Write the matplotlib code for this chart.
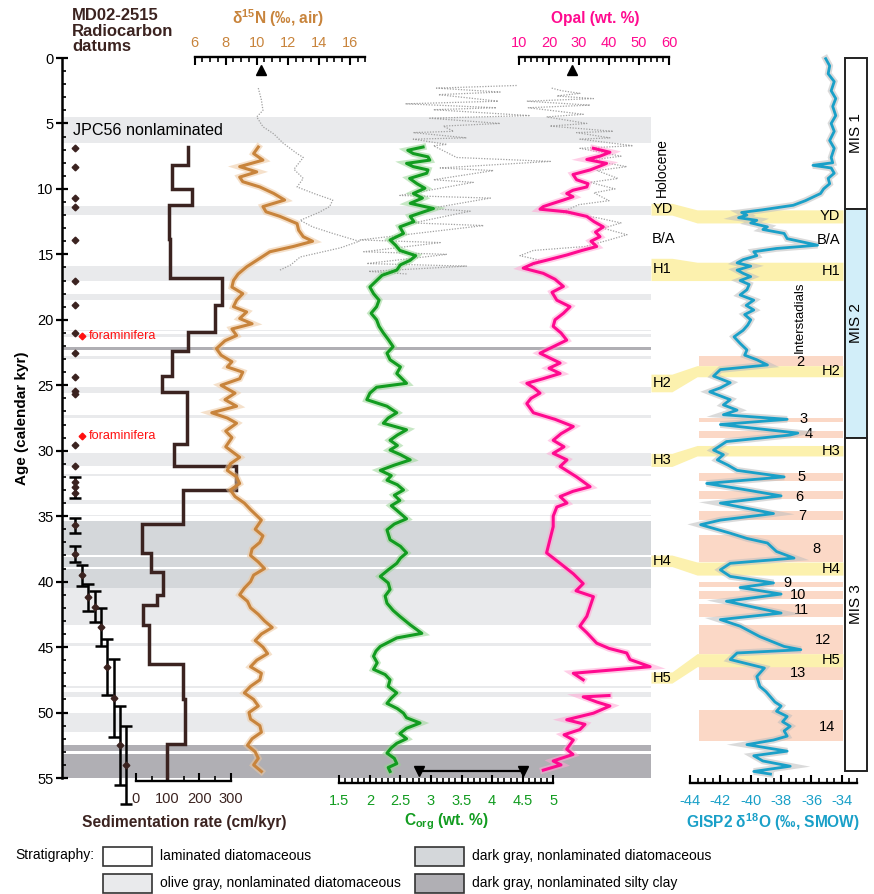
import numpy as np
import matplotlib
matplotlib.use('Agg')
import matplotlib.pyplot as plt
from matplotlib.ticker import MultipleLocator, FuncFormatter
from matplotlib.patches import Rectangle

plt.rcParams['font.family'] = ['Liberation Sans', 'DejaVu Sans']
plt.rcParams['axes.unicode_minus'] = False
plt.rcParams['mathtext.fontset'] = 'custom'
plt.rcParams['mathtext.rm'] = 'Liberation Sans:bold'
plt.rcParams['mathtext.it'] = 'Liberation Sans:bold'
plt.rcParams['mathtext.bf'] = 'Liberation Sans:bold'

# ---------------- data ----------------
# stratigraphy bands (age top, age bottom, kind)
strat_top = [4.5, 11.3, 15.9, 18.0, 20.75, 21.1, 22.05, 22.8, 25.1, 27.25, 30.15, 31.75,
             33.8, 34.9, 35.35, 38.1, 39.0, 40.45, 44.7, 48.0, 48.45, 50.0, 52.45, 53.2]
strat_bot = [6.46, 12.0, 17.0, 18.5, 20.85, 21.3, 22.3, 23.0, 25.6, 27.5, 31.2, 31.9,
             34.05, 35.0, 38.0, 38.85, 40.45, 43.35, 44.95, 48.15, 48.8, 51.5, 52.9, 55.0]
strat_kind = ['olive', 'olive', 'olive', 'olive', 'olive', 'olive', 'silty', 'olive', 'olive',
              'olive', 'olive', 'olive', 'olive', 'olive', 'dark', 'dark', 'dark', 'olive',
              'olive', 'olive', 'olive', 'olive', 'silty', 'silty']

# radiocarbon datums
c14_age = [6.9, 8.3, 10.7, 11.4, 13.9, 17.0, 18.9, 21.0, 22.5, 24.4, 25.4, 25.7, 29.6, 31.2,
           32.4, 32.8, 33.2, 35.7, 37.9, 39.5, 41.2, 41.9, 43.5, 46.5, 48.9, 52.5, 54.0]
c14_err = [0] * 15 + [0.8, 0, 0.55, 0.6, 0.8, 1.05, 1.15, 1.45, 2.15, 3.0, 3.0, 3.0]
foram_age = [21.2, 28.9]

# sedimentation rate (step function: top age of each interval, rate)
sed_top = [6.8, 8.2, 10.0, 11.2, 13.8, 16.8, 18.9, 20.9, 22.4, 24.3, 25.5, 29.5, 31.2, 33.0,
           35.6, 37.8, 39.3, 41.0, 41.8, 43.3, 46.3, 49.0, 52.4]
sed_rate = [165, 113, 178, 105, 108, 273, 248, 165, 113, 83, 161, 121, 315, 149,
            19, 47, 86, 66, 22, 41, 147, 154, 99]
sed_end = 55.0

# d15N (age, permil)
d15n = [(6.8, 10.1), (7.3, 9.8), (7.8, 10.4), (8.3, 8.9), (8.7, 10.0), (9.1, 8.9), (9.45, 9.1),
        (9.85, 10.2), (10.35, 11.1), (10.85, 11.8), (11.35, 10.4), (11.75, 10.6), (12.1, 11.5),
        (12.65, 12.6), (13.15, 12.7), (13.65, 13.0), (14.0, 13.6), (14.4, 12.35), (14.8, 10.85),
        (15.3, 10.2), (15.95, 9.35), (16.5, 8.8), (17.0, 8.5), (17.5, 8.4), (18.0, 9.1),
        (18.5, 8.7), (19.0, 8.5), (19.4, 9.35), (19.9, 8.9), (20.3, 9.7), (20.7, 8.4),
        (21.2, 8.7), (21.6, 7.95), (22.2, 7.4), (22.7, 7.7), (23.2, 8.4), (23.6, 8.1),
        (24.0, 9.1), (24.5, 8.9), (25.0, 7.7), (25.6, 8.6), (26.1, 7.95), (26.6, 8.7),
        (27.1, 7.1), (27.5, 8.1), (27.9, 8.7), (28.5, 8.0), (29.0, 8.4), (29.7, 8.0),
        (30.5, 8.9), (31.0, 8.3), (31.5, 8.1), (32.0, 8.7), (32.5, 8.9), (33.0, 8.3),
        (33.5, 8.6), (34.0, 9.2), (34.5, 9.6), (35.3, 10.3), (36.0, 9.9), (36.5, 10.4),
        (37.0, 10.2), (37.5, 9.7), (38.0, 9.6), (38.5, 10.1), (39.0, 10.5), (39.5, 9.8),
        (40.0, 9.6), (40.5, 9.2), (41.0, 8.9), (41.5, 9.4), (42.0, 9.6), (42.5, 10.1),
        (43.0, 10.5), (43.5, 11.0), (44.0, 10.3), (44.5, 9.9), (45.0, 10.4), (45.5, 10.7),
        (46.0, 10.0), (46.5, 9.6), (47.0, 10.3), (47.5, 10.2), (48.0, 9.6), (48.5, 9.2),
        (49.0, 9.8), (49.5, 10.1), (50.0, 9.5), (50.5, 9.6), (51.0, 10.2), (51.5, 10.3),
        (52.0, 9.7), (52.5, 9.4), (53.0, 9.9), (53.5, 10.1), (54.0, 9.8), (54.5, 10.3)]
d15n_jpc = [(2.3, 10.1), (3.2, 10.3), (4.0, 10.4), (4.5, 10.0), (5.25, 10.4), (5.8, 11.1),
            (6.5, 11.7), (7.3, 12.6), (7.6, 13.0), (8.5, 12.4), (9.2, 13.0), (9.85, 12.6),
            (10.4, 13.8), (10.85, 14.9), (11.35, 14.7), (11.8, 14.0), (12.4, 12.8), (12.9, 13.6),
            (13.4, 14.9), (14.0, 16.6), (14.5, 15.4), (15.2, 12.8), (15.8, 12.2), (16.2, 11.5)]
d15n_core_top = 10.3

# Corg (age, wt %)
corg = [(6.8, 2.87), (7.05, 2.62), (7.3, 2.71), (7.55, 2.95), (7.8, 2.98), (8.05, 2.6),
        (8.3, 2.71), (8.55, 2.95), (8.8, 2.93), (9.2, 2.65), (9.6, 2.77), (9.95, 2.9),
        (10.35, 2.71), (10.7, 2.86), (11.1, 2.66), (11.5, 3.04), (12.1, 2.66), (12.5, 2.72),
        (12.9, 2.49), (13.4, 2.55), (13.9, 2.33), (14.3, 2.42), (14.7, 2.49), (15.1, 2.75),
        (15.45, 2.66), (15.8, 2.5), (16.2, 2.44), (16.6, 2.2), (17.0, 2.11), (17.5, 2.0),
        (18.0, 2.06), (18.5, 2.15), (19.0, 2.11), (19.5, 2.02), (20.0, 2.11), (20.5, 2.15),
        (21.0, 2.22), (21.5, 2.3), (22.05, 2.38), (22.55, 2.28), (23.05, 2.33), (23.6, 2.5),
        (24.1, 2.44), (24.85, 2.6), (25.15, 2.11), (25.6, 2.0), (26.1, 1.95), (26.6, 2.28),
        (27.1, 2.44), (27.5, 2.3), (27.9, 2.22), (28.4, 2.6), (28.8, 2.45), (29.2, 2.33),
        (29.6, 2.45), (29.95, 2.33), (30.3, 2.5), (30.7, 2.66), (31.1, 2.4), (31.5, 2.17),
        (31.9, 2.35), (32.25, 2.28), (32.6, 2.45), (33.0, 2.55), (33.4, 2.4), (33.8, 2.49),
        (34.2, 2.35), (34.55, 2.44), (35.2, 2.6), (35.6, 2.4), (36.05, 2.28), (36.8, 2.33),
        (37.3, 2.5), (37.8, 2.6), (38.2, 2.5), (38.6, 2.44), (39.1, 2.3), (39.6, 2.17),
        (40.1, 2.3), (40.6, 2.33), (41.1, 2.25), (41.65, 2.28), (42.2, 2.38), (42.65, 2.49),
        (43.3, 2.66), (43.95, 2.85), (44.3, 2.44), (44.95, 2.17), (45.3, 2.1), (45.7, 2.06),
        (46.2, 2.12), (46.7, 2.06), (47.1, 2.25), (47.5, 2.33), (48.0, 2.3), (48.5, 2.44),
        (48.9, 2.35), (49.3, 2.28), (49.7, 2.45), (50.05, 2.55), (50.4, 2.6), (50.8, 2.82),
        (51.2, 2.6), (51.6, 2.49), (52.0, 2.6), (52.35, 2.44), (52.7, 2.35), (53.1, 2.28),
        (53.5, 2.4), (53.9, 2.44), (54.2, 2.3), (54.5, 2.33)]
corg_jpc = [(2.1, 4.40), (2.3, 3.09), (2.6, 4.13), (2.8, 3.12), (3.3, 4.10), (3.5, 2.58),
            (3.8, 4.07), (3.95, 3.04), (4.4, 4.62), (4.6, 2.98), (5.0, 4.13), (5.2, 3.20),
            (5.6, 3.37), (5.7, 2.71), (6.1, 3.58), (6.2, 2.71), (6.6, 3.26), (6.7, 3.04),
            (7.6, 3.42), (7.9, 4.95), (8.4, 3.15), (8.6, 4.02), (9.3, 3.04), (9.5, 3.69),
            (10.5, 2.49), (10.7, 3.97), (11.5, 2.98), (11.7, 3.64), (12.6, 2.71), (12.8, 3.86),
            (13.9, 1.84), (14.1, 3.15), (14.8, 1.90), (15.0, 3.26), (15.7, 1.95), (15.9, 3.58),
            (16.3, 1.98), (16.5, 2.61)]
corg_range = [2.81, 4.5]
corg_range_age = 54.45

# opal (age, wt %)
opal = [(6.9, 34.8), (7.2, 40.3), (7.5, 37.0), (7.75, 32.6), (8.05, 39.2), (8.3, 36.5),
        (8.55, 33.7), (8.9, 28.0), (9.3, 29.2), (9.6, 33.0), (9.85, 32.6), (10.1, 28.0),
        (10.35, 25.9), (10.6, 28.0), (10.85, 24.8), (11.1, 21.4), (11.35, 18.1), (11.55, 17.0),
        (11.75, 25.9), (12.1, 32.6), (12.5, 35.0), (12.9, 38.1), (13.3, 35.5), (13.65, 37.0),
        (14.0, 34.0), (14.4, 35.9), (14.7, 31.0), (15.05, 25.9), (15.4, 20.0), (15.7, 14.8),
        (16.05, 11.4), (16.45, 18.1), (16.9, 22.0), (17.45, 24.8), (17.9, 21.0), (18.5, 22.6),
        (19.0, 27.0), (19.5, 24.8), (20.0, 22.0), (20.5, 21.4), (21.0, 24.0), (21.55, 25.9),
        (22.1, 21.0), (22.55, 17.0), (23.3, 23.7), (23.7, 20.0), (24.1, 23.7), (24.5, 18.0),
        (24.85, 12.6), (25.2, 15.0), (25.6, 17.0), (26.0, 14.0), (26.4, 12.6), (27.1, 14.8),
        (27.6, 22.0), (28.15, 28.1), (28.7, 24.0), (29.2, 21.4), (29.7, 25.0), (30.2, 21.4),
        (30.7, 26.0), (31.2, 23.7), (32.0, 29.2), (32.75, 33.7), (33.1, 28.0), (33.5, 23.7),
        (34.0, 26.0), (34.3, 22.6), (35.0, 21.4), (35.8, 21.4), (36.8, 20.3), (37.8, 19.2),
        (38.6, 23.7), (39.4, 28.1), (40.15, 31.4), (40.7, 29.0), (41.15, 34.8), (41.9, 33.7),
        (42.65, 32.6), (43.4, 30.3), (43.9, 32.6), (44.7, 35.9), (45.1, 40.0), (45.45, 45.9),
        (45.95, 47.0), (46.5, 53.7), (47.0, 28.1), (47.5, 31.4), (48.0, np.nan), (48.7, 40.0),
        (48.8, 31.4), (49.2, 36.0), (49.5, 40.3), (50.05, 34.8), (50.55, 25.9), (50.9, 32.0),
        (51.3, 30.3), (51.7, 25.0), (52.1, 28.1), (52.8, 25.9), (53.2, 28.0), (53.7, 21.4),
        (54.0, 24.0), (54.4, 18.1)]
opal_jpc = [(2.3, 20.9), (2.5, 24.2), (2.7, 30.3), (2.9, 22.6), (3.1, 34.8), (3.3, 12.6),
            (3.6, 33.7), (3.8, 13.1), (4.3, 31.4), (4.5, 19.2), (5.0, 32.6), (5.2, 20.3),
            (5.6, 41.4), (5.7, 29.2), (6.1, 40.3), (6.2, 30.3), (6.7, 48.0), (6.9, 30.3),
            (7.5, 44.0), (7.8, 34.0), (8.3, 45.9), (8.6, 36.0), (9.2, 43.0), (9.5, 33.7),
            (10.0, 42.0), (10.3, 35.0), (10.9, 40.0), (11.2, 30.0), (11.8, 24.0), (12.2, 36.0),
            (12.6, 44.0), (13.0, 38.0), (13.5, 46.0), (13.9, 40.0), (14.4, 32.0), (14.7, 14.8),
            (15.1, 10.3), (15.5, 18.0), (15.9, 14.0)]
opal_core_top = 27.6

# GISP2 d18O (age, permil)
gisp = [(0.05, -35.06), (0.6, -34.8), (1.2, -34.9), (1.8, -34.5), (2.5, -34.7), (3.1, -34.4),
        (3.7, -34.6), (4.4, -34.4), (5.0, -34.7), (5.6, -34.5), (6.3, -34.8), (6.9, -34.5),
        (7.6, -34.7), (8.0, -34.6), (8.2, -35.9), (8.4, -34.7), (8.8, -34.5), (9.2, -34.9),
        (9.6, -34.8), (10.0, -35.2), (10.35, -35.4), (10.9, -36.4), (11.25, -37.2),
        (11.35, -37.8), (11.6, -39.25), (11.8, -40.6), (12.0, -40.25), (12.2, -40.8),
        (12.4, -39.6), (12.6, -40.0), (12.9, -38.9), (13.1, -39.2), (13.4, -37.8),
        (13.8, -37.6), (14.0, -36.8), (14.3, -35.6), (14.55, -38.3), (14.8, -39.8),
        (15.1, -39.6), (15.4, -40.5), (15.65, -40.9), (15.9, -40.0), (16.2, -40.9),
        (16.45, -40.5), (16.7, -40.0), (17.0, -40.7), (17.3, -40.1), (17.7, -40.25),
        (18.1, -40.7), (18.5, -39.8), (18.9, -40.3), (19.25, -39.8), (19.6, -40.4),
        (20.0, -40.0), (20.4, -40.2), (20.8, -40.5), (21.3, -41.1), (21.8, -40.7),
        (22.3, -40.25), (22.7, -40.4), (23.05, -39.6), (23.45, -38.9), (23.8, -42.0),
        (24.3, -42.45), (24.8, -41.35), (25.2, -42.0), (25.5, -42.7), (26.1, -41.35),
        (26.5, -41.8), (26.9, -40.9), (27.25, -41.8), (27.6, -37.6), (28.0, -42.0),
        (28.65, -36.9), (28.8, -37.4), (29.3, -41.6), (29.95, -42.45), (30.3, -41.8),
        (30.7, -42.2), (31.1, -41.5), (31.5, -40.9), (32.0, -37.8), (32.5, -42.9),
        (33.0, -40.25), (33.45, -38.0), (34.0, -42.0), (34.8, -38.5), (35.3, -42.0),
        (35.65, -43.3), (36.3, -41.35), (36.7, -40.25), (37.05, -38.9), (37.7, -38.3),
        (38.2, -37.15), (38.6, -41.35), (39.1, -42.0), (39.6, -41.35), (40.1, -38.5),
        (40.45, -40.7), (40.95, -38.0), (41.5, -41.6), (42.0, -39.6), (42.4, -38.0),
        (42.9, -42.0), (43.4, -40.7), (44.2, -39.4), (44.95, -37.8), (45.2, -36.7),
        (45.45, -40.9), (45.95, -41.35), (46.6, -39.1), (47.25, -39.6), (48.0, -39.4),
        (48.4, -39.0), (48.8, -38.7), (49.2, -38.4), (49.5, -38.0), (49.9, -38.3),
        (50.3, -37.6), (50.7, -37.9), (51.05, -37.4), (51.4, -37.8), (51.8, -37.6),
        (52.1, -38.5), (52.45, -40.25), (52.95, -37.6), (53.3, -39.8), (53.7, -39.2),
        (54.1, -37.4), (54.5, -39.8), (54.7, -38.7)]

# Heinrich events / YD: ages in MD02-2515 and in GISP2
events = ['YD', 'H1', 'H2', 'H3', 'H4', 'H5']
ev_md_top = [11.1, 15.3, 24.15, 30.2, 37.97, 46.9]
ev_md_bot = [12.0, 17.0, 25.5, 31.2, 38.85, 47.75]
ev_gisp_top = [11.6, 15.6, 23.5, 29.6, 38.5, 45.5]
ev_gisp_bot = [12.6, 17.0, 24.35, 30.4, 39.5, 46.5]

# Greenland interstadials
is_num = ['2', '3', '4', '5', '6', '7', '8', '9', '10', '11', '12', '13', '14']
is_top = [22.8, 27.5, 28.5, 31.7, 33.1, 34.6, 36.4, 40.05, 40.7, 41.7, 43.3, 46.5, 49.8]
is_bot = [23.5, 27.8, 29.05, 32.3, 33.7, 35.3, 38.5, 40.4, 41.3, 42.7, 45.5, 47.5, 52.2]

# marine isotope stages
mis_names = ['MIS 1', 'MIS 2', 'MIS 3']
mis_bounds = [0, 11.5, 29.0, 54.5]

# ---------------- layout helpers ----------------
W, H = 874, 894
Y0, Y1 = 58, 778          # pixel rows of age 0 and age 55
FS = 10.5                 # general text size

fig = plt.figure(figsize=(W / 100, H / 100), dpi=100)


def px_axes(x0, x1, z):
    a = fig.add_axes([x0 / W, 1 - Y1 / H, (x1 - x0) / W, (Y1 - Y0) / H])
    a.set_ylim(55, 0)
    a.patch.set_visible(False)
    a.set_zorder(z)
    return a


def track_axis(a, side, color, major, minor, offset, fmt=None):
    for s in a.spines.values():
        s.set_visible(False)
    sp = a.spines[side]
    sp.set_visible(True)
    sp.set_linewidth(1.7)
    sp.set_position(('outward', offset))
    a.yaxis.set_visible(False)
    a.xaxis.set_ticks_position(side)
    a.xaxis.set_major_locator(MultipleLocator(major))
    a.xaxis.set_minor_locator(MultipleLocator(minor))
    a.xaxis.set_major_formatter(FuncFormatter(fmt or (lambda v, p: f'{v:g}')))
    pad = 8 if side == 'bottom' else 5
    a.tick_params(axis='x', which='major', direction='in', length=6, width=1.5,
                  labelsize=FS, labelcolor=color, pad=pad)
    a.tick_params(axis='x', which='minor', direction='in', length=3.5, width=1.2)


def trace(a, pairs, color, halo, lw=2.2):
    arr = np.array(pairs, dtype=float)
    a.plot(arr[:, 1], arr[:, 0], color=halo, lw=4.8, alpha=0.55, clip_on=False,
           solid_joinstyle='miter')
    a.plot(arr[:, 1], arr[:, 0], color=color, lw=lw, clip_on=False)


def dotted(a, pairs):
    arr = np.array(pairs, dtype=float)
    a.plot(arr[:, 1], arr[:, 0], color='#a0a0a0', lw=0.9, ls=(0, (1, 1.2)), clip_on=False)


brown = '#3b2320'
c_n15, c_corg, c_opal, c_gisp = '#c8843c', '#129c20', '#ff0a8f', '#1aa0c8'
band_col = {'olive': '#e9eaec', 'dark': '#d4d7da', 'silty': '#b0afb4'}

# ---------------- main age axis + stratigraphy ----------------
ax = px_axes(62, 651, 0)
ax.set_xlim(0, 1)
for s in ['top', 'right', 'bottom']:
    ax.spines[s].set_visible(False)
ax.spines['left'].set_linewidth(1.8)
ax.set_xticks([])
ax.yaxis.set_major_locator(MultipleLocator(5))
ax.yaxis.set_minor_locator(MultipleLocator(1))
ax.tick_params(axis='y', which='major', direction='inout', length=8, width=1.6,
               labelsize=FS, pad=2)
ax.tick_params(axis='y', which='minor', direction='in', length=3, width=1.2)
for t, b, k in zip(strat_top, strat_bot, strat_kind):
    ax.axhspan(t, b, color=band_col[k], lw=0, zorder=0)
ax.text(0.018, 5.5, 'JPC56 nonlaminated', fontsize=11.6, va='center', ha='left')
fig.text(22 / W, 1 - 418 / H, 'Age (calendar kyr)', rotation=90, fontsize=11,
         fontweight='bold', ha='center', va='center')
fig.text(72 / W, 1 - 8 / H, 'MD02-2515\nRadiocarbon\ndatums', fontsize=12,
         fontweight='bold', color=brown, ha='left', va='top', linespacing=1.05)

# ---------------- radiocarbon datums ----------------
axc = px_axes(62, 140, 5)
axc.set_xlim(0, 1)
axc.axis('off')
c14_x = []
k = 0
for a_ in c14_age:
    if a_ < 39:
        c14_x.append(0.167)
    else:
        c14_x.append(0.257 + 0.081 * k)
        k += 1
for xv, yv, e in zip(c14_x, c14_age, c14_err):
    if e > 0:
        eb = axc.errorbar(xv, yv, yerr=e, fmt='none', ecolor='black', elinewidth=1.8,
                          capsize=4, capthick=1.8)
        for art in eb.get_children():
            art.set_clip_on(False)
axc.plot(c14_x, c14_age, 'D', color=brown, ms=3.4, clip_on=False, zorder=4)
axc.plot([0.25] * len(foram_age), foram_age, 'D', color='#ff1010', ms=3.4)
for fa in foram_age:
    axc.text(0.35, fa, 'foraminifera', color='#ff1010', fontsize=9.2, va='center')

# ---------------- sedimentation rate ----------------
axs = px_axes(136, 231, 3)
axs.set_xlim(0, 300)
track_axis(axs, 'bottom', brown, 100, 50, 2.2)
bot = sed_top[1:] + [sed_end]
sx = np.repeat(sed_rate, 2)
sy = np.ravel(np.column_stack([sed_top, bot]))
axs.plot(sx, sy, color=brown, lw=2.5, clip_on=False, solid_joinstyle='miter')
fig.text(184 / W, 1 - 822 / H, 'Sedimentation rate (cm/kyr)', fontsize=11.2,
         fontweight='bold', color=brown, ha='center', va='center')

# ---------------- d15N ----------------
axn = px_axes(194.7, 365.3, 3)
axn.set_xlim(6, 17)
track_axis(axn, 'top', c_n15, 2, 0.5, 0.7)
dotted(axn, d15n_jpc)
trace(axn, d15n, c_n15, '#edc8a0')
axn.plot([d15n_core_top], [0.9], '^', color='black', ms=7.5, clip_on=False)
fig.text(278 / W, 1 - 18 / H, 'δ$^{15}$N (‰, air)', fontsize=11.2, fontweight='bold',
         color=c_n15, ha='center', va='center')

# ---------------- Corg ----------------
axg = px_axes(339.3, 553.3, 3)
axg.set_xlim(1.5, 5)
track_axis(axg, 'bottom', c_corg, 0.5, 0.1, 3.6)
dotted(axg, corg_jpc)
trace(axg, corg, c_corg, '#98d494')
axg.plot(corg_range, [corg_range_age] * 2, color='black', lw=1.6, clip_on=False)
axg.plot(corg_range, [corg_range_age] * 2, 'v', color='black', ms=7.5, clip_on=False)
fig.text(446 / W, 1 - 822 / H, 'C$_{org}$ (wt. %)', fontsize=11.2, fontweight='bold',
         color=c_corg, ha='center', va='center')

# ---------------- opal ----------------
axo = px_axes(519, 669, 3)
axo.set_xlim(10, 60)
track_axis(axo, 'top', c_opal, 10, 2, 0.7)
dotted(axo, opal_jpc)
trace(axo, opal, c_opal, '#ffa6d4')
axo.plot([opal_core_top], [0.9], '^', color='black', ms=7.5, clip_on=False)
fig.text(595 / W, 1 - 19 / H, 'Opal (wt. %)', fontsize=11.2, fontweight='bold',
         color=c_opal, ha='center', va='center')

# ---------------- events / interstadial bands ----------------
axe = px_axes(651, 843, 1)
axe.set_xlim(0, 1)
axe.axis('off')
yel, pink = '#fcf1ae', '#fbd8c6'
for t, b in zip(is_top, is_bot):
    axe.fill_between([0.25, 1], t, b, color=pink, lw=0)
for t1, b1, t2, b2 in zip(ev_md_top, ev_md_bot, ev_gisp_top, ev_gisp_bot):
    axe.fill_between([0, 0.109, 0.24, 1], [t1, t1, t2, t2], [b1, b1, b2, b2],
                     color=yel, lw=0)
for name, t1, b1, t2, b2 in zip(events, ev_md_top, ev_md_bot, ev_gisp_top, ev_gisp_bot):
    axe.text(0.008, (t1 + b1) / 2, name, fontsize=FS, ha='left', va='center', zorder=5)
    axe.text(0.985, (t2 + b2) / 2, name, fontsize=FS, ha='right', va='center', zorder=5)
axe.text(0.005, 13.85, 'B/A', fontsize=FS, ha='left', va='center')
axe.text(0.985, 13.9, 'B/A', fontsize=FS, ha='right', va='center')
axe.text(0.055, 8.4, 'Holocene', fontsize=10, rotation=90, ha='center', va='center')
axe.text(0.776, 19.8, 'Interstadials', fontsize=9.5, rotation=90, ha='center', va='center')
is_label_x = [0.776, 0.797, 0.823, 0.786, 0.771, 0.786, 0.863, 0.712, 0.764, 0.781,
              0.898, 0.764, 0.915]
is_label_y = [23.25, 27.6, 28.7, 32.0, 33.5, 35.0, 37.5, 40.1, 41.0, 42.2, 44.45, 47.0, 51.1]
for s, xl, yl in zip(is_num, is_label_x, is_label_y):
    axe.text(xl, yl, s, fontsize=FS, ha='center', va='center', zorder=5)

# ---------------- GISP2 ----------------
axi = px_axes(690, 857, 4)
axi.set_xlim(-44, -33)
track_axis(axi, 'bottom', c_gisp, 2, 0.5, 3.6)
trace(axi, gisp, c_gisp, '#bdbdbd', lw=2.0)
fig.text(773 / W, 1 - 822 / H, 'GISP2 δ$^{18}$O (‰, SMOW)', fontsize=11.2,
         fontweight='bold', color=c_gisp, ha='center', va='center')

# ---------------- MIS column ----------------
axm = px_axes(845, 867, 4)
axm.set_xlim(0, 1)
axm.axis('off')
for i, name in enumerate(mis_names):
    t, b = mis_bounds[i], mis_bounds[i + 1]
    fc = '#d2eef9' if name == 'MIS 2' else 'white'
    axm.add_patch(Rectangle((0, t), 1, b - t, facecolor=fc, edgecolor='#222222', lw=1.4,
                            clip_on=False))
    axm.text(0.5, (t + b) / 2, name, rotation=90, fontsize=11, ha='center', va='center')

# ---------------- stratigraphy legend ----------------
fig.text(15 / W, 1 - 855 / H, 'Stratigraphy:', fontsize=10, ha='left', va='center')
legend_items = [('white', 'laminated diatomaceous', 103, 856),
                (band_col['olive'], 'olive gray, nonlaminated diatomaceous', 103, 883),
                (band_col['dark'], 'dark gray, nonlaminated diatomaceous', 415, 856),
                (band_col['silty'], 'dark gray, nonlaminated silty clay', 415, 883)]
for fc, lab, lx, ly in legend_items:
    fig.add_artist(Rectangle((lx / W, 1 - (ly + 9.5) / H), 49 / W, 19 / H, facecolor=fc,
                             edgecolor='#333333', lw=1.2, transform=fig.transFigure))
    fig.text((lx + 57) / W, 1 - ly / H, lab, fontsize=10, ha='left', va='center')

fig.savefig('out.png', dpi=100)
